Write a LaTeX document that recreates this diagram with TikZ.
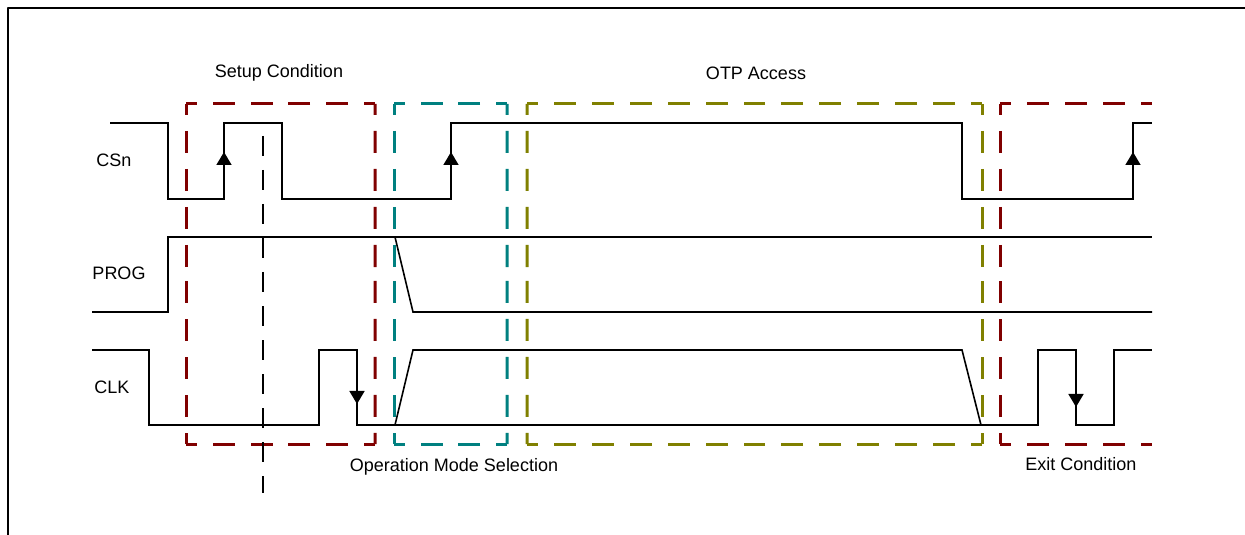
\documentclass[tikz,border=0pt]{standalone}
\usepackage{fontspec}
\setmainfont{Liberation Sans}
\usepackage{tikz}
\usetikzlibrary{positioning,arrows.meta}

\definecolor{setupred}{RGB}{128,0,0}
\definecolor{opteal}{RGB}{0,128,128}
\definecolor{otpolive}{RGB}{128,128,0}

\tikzset{
  label/.style={draw=none,inner sep=0pt,font=\fontsize{18bp}{21bp}\selectfont},
  wave/.style={black,line width=1.6bp,line join=miter},
  phasebox/.style={line width=3bp,dash pattern=on 22bp off 16bp,dash phase=11bp},
  edge/.style={black,line width=1.6bp,-{Triangle[width=15bp,length=13bp]}},
}

% one dashed side, drawn from both corners towards its middle
\newcommand{\phaseside}[3]{%
  \draw [#1,phasebox] (#2) -- ($(#2)!0.5!(#3)$);
  \draw [#1,phasebox] (#3) -- ($(#2)!0.5!(#3)$);
}
\usetikzlibrary{calc}

\begin{document}
\begin{tikzpicture}[x=1bp,y=-1bp,line join=bevel]
\useasboundingbox (0,0) rectangle (1245,535);
%%
\draw [black,line width=2.8bp] (8,535) -- (8,8) -- (1245,8);
%
\node (setup) at (279,73) [label] {Setup Condition};
  \node (otp) at (756,73) [label] {OTP Access};
  \node (opmode) at (454,467) [label] {Operation Mode Selection};
  \node (exit) at (1081,464) [label] {Exit Condition};
  \node (csn) at (114,160) [label] {CSn};
  \node (prog) at (119,273) [label] {PROG};
  \node (clk) at (112,387) [label] {CLK};
%
\phaseside{setupred}{186,104}{375,104}
  \phaseside{setupred}{375,104}{375,444}
  \phaseside{setupred}{375,444}{186,444}
  \phaseside{setupred}{186,444}{186,104}
  \phaseside{opteal}{394,104}{507,104}
  \phaseside{opteal}{507,104}{507,444}
  \phaseside{opteal}{507,444}{394,444}
  \phaseside{opteal}{394,444}{394,104}
  \phaseside{otpolive}{527,104}{982,104}
  \phaseside{otpolive}{982,104}{982,444}
  \phaseside{otpolive}{982,444}{527,444}
  \phaseside{otpolive}{527,444}{527,104}
  \draw [setupred,phasebox] (1000,104) -- (1152,104);
  \phaseside{setupred}{1000,104}{1000,444}
  \draw [setupred,phasebox] (1000,444) -- (1152,444);
  \draw [black,line width=2bp,dash pattern=on 20bp off 14bp] (263,136) -- (263,493);
%
\draw [wave] (110,123) -- (168,123) -- (168,199) -- (224,199) -- (224,123) -- (282,123) -- (282,199) -- (451,199) -- (451,123) -- (962,123) -- (962,199) -- (1133,199) -- (1133,123) -- (1152,123);
  \draw [wave] (92,312) -- (168,312) -- (168,237) -- (1152,237);
  \draw [wave] (395,237) -- (413,312) -- (1152,312);
  \draw [wave] (92,350) -- (149,350) -- (149,425) -- (319,425) -- (319,350) -- (357,350) -- (357,425) -- (1038,425) -- (1038,350) -- (1076,350) -- (1076,425) -- (1114,425) -- (1114,350) -- (1152,350);
  \draw [wave] (395,425) -- (413,350) -- (962,350) -- (981,425);
%
\draw [edge] (224,199) -- (224,152);
  \draw [edge] (451,199) -- (451,152);
  \draw [edge] (1133,199) -- (1133,152);
  \draw [edge] (357,350) -- (357,404);
  \draw [edge] (1076,350) -- (1076,407);
%
\end{tikzpicture}
\end{document}
